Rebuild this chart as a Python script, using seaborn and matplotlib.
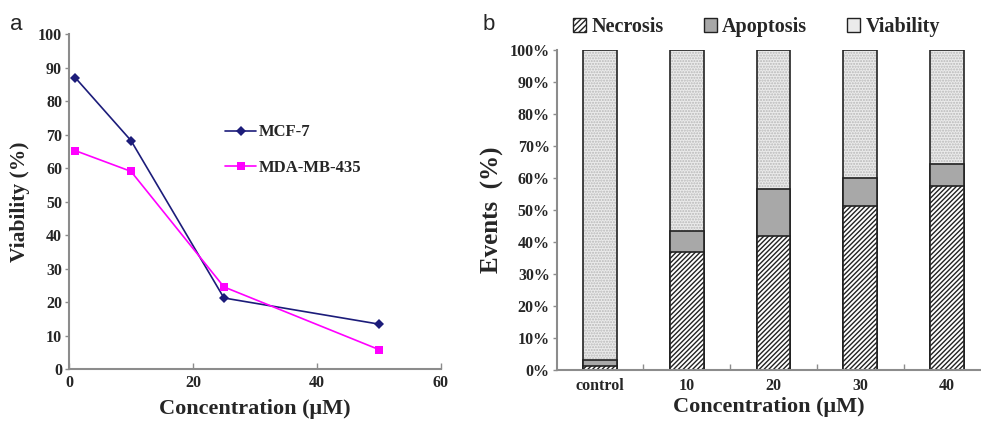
import numpy as np
import pandas as pd
import matplotlib
matplotlib.use('Agg')
import matplotlib.pyplot as plt
import seaborn as sns
from matplotlib.patches import Patch
from matplotlib.lines import Line2D

# ---- panel a data ----
conc = [1, 10, 25, 50]
mcf7 = [87.0, 68.2, 21.2, 13.4]
mda = [65.2, 59.0, 24.5, 5.8]
line_names = ['MCF-7', 'MDA-MB-435']

# ---- panel b data ----
groups = ['control', '10', '20', '30', '40']
necrosis = [1.2, 37.0, 41.9, 51.4, 57.4]
apoptosis = [1.9, 6.4, 14.7, 8.7, 7.0]
viability = [96.9, 56.6, 43.4, 39.9, 35.6]

sns.set_theme(style='white')
plt.rcParams['font.family'] = ['Liberation Serif', 'DejaVu Serif']
plt.rcParams['font.weight'] = 'bold'
plt.rcParams['hatch.linewidth'] = 1.0

EDGE = '#222222'
SPINE = '#8c8c8c'
fig = plt.figure(figsize=(9.81, 4.21), dpi=100)
ax1 = fig.add_axes([0.0703, 0.1235, 0.3792, 0.7957])
ax2 = fig.add_axes([0.5675, 0.1211, 0.4315, 0.7600])

# ---------------- panel a ----------------
df = pd.DataFrame({
    'conc': conc * 2,
    'viab': mcf7 + mda,
    'line': [line_names[0]] * len(conc) + [line_names[1]] * len(conc),
})
pal = {line_names[0]: '#1c1c7a', line_names[1]: '#ff00ff'}
mk = {line_names[0]: 'D', line_names[1]: 's'}
msz = {line_names[0]: 4.8, line_names[1]: 6.0}
for name in line_names:
    sub = df[df['line'] == name]
    sns.lineplot(data=sub, x='conc', y='viab', color=pal[name], marker=mk[name],
                 markersize=msz[name], markeredgewidth=0,
                 linewidth=1.2, ax=ax1, legend=False)
ax1.set_xlim(0, 60)
ax1.set_ylim(0, 100)
ax1.set_xticks([0, 20, 40, 60])
ax1.set_yticks(np.arange(0, 101, 10))
for s in ['top', 'right']:
    ax1.spines[s].set_visible(False)
for s in ['left', 'bottom']:
    ax1.spines[s].set_color(SPINE)
    ax1.spines[s].set_linewidth(1.5)
ax1.tick_params(axis='y', direction='out', length=3, width=1, color=SPINE,
                labelsize=11.5, pad=2, left=True)
ax1.tick_params(axis='x', direction='in', length=4, width=1, color=SPINE,
                labelsize=11.5, pad=4, bottom=True)
for lab in ax1.get_xticklabels() + ax1.get_yticklabels():
    lab.set_fontweight('bold')
ax1.set_xlabel('Concentration (\u03bcM)', fontsize=16, fontweight='bold', labelpad=6)
ax1.set_ylabel('Viability (%)', fontsize=15.5, fontweight='bold', labelpad=6)
handles = [Line2D([], [], color=pal[n], marker=mk[n], markersize=msz[n],
                  markeredgewidth=0, linewidth=1.2) for n in line_names]
ax1.legend(handles, line_names, loc='center left', bbox_to_anchor=(0.419, 0.654),
           frameon=False, borderpad=0, borderaxespad=0, handlelength=1.9,
           handletextpad=0.15, labelspacing=1.15, prop={'weight': 'bold', 'size': 12})

fig.text(10 / 981, 1 - 25 / 421, 'a', family='Liberation Sans', fontsize=16,
         fontweight='normal', va='center', ha='left')
fig.text(483 / 981, 1 - 25 / 421, 'b', family='Liberation Sans', fontsize=16,
         fontweight='normal', va='center', ha='left')

# ---------------- panel b ----------------
nec = np.array(necrosis)
apo = np.array(apoptosis)
via = np.array(viability)
cum_apo = nec + apo
total = cum_apo + via
W = 0.39

n0 = len(ax2.patches)
sns.barplot(x=groups, y=total, order=groups, color='#ebebeb', saturation=1, width=W,
            errorbar=None, ax=ax2)
for p in ax2.patches[n0:]:
    p.set_hatch('......')
    p.set_edgecolor('#b8b8b8')
    p.set_linewidth(0)
n0 = len(ax2.patches)
sns.barplot(x=groups, y=total, order=groups, color='#ebebeb', saturation=1, width=W,
            errorbar=None, ax=ax2)
for p in ax2.patches[n0:]:
    p.set_facecolor('none')
    p.set_edgecolor(EDGE)
    p.set_linewidth(1.2)
n0 = len(ax2.patches)
sns.barplot(x=groups, y=cum_apo, order=groups, color='#a8a8a8', saturation=1, width=W,
            errorbar=None, ax=ax2)
for p in ax2.patches[n0:]:
    p.set_edgecolor(EDGE)
    p.set_linewidth(1.2)
n0 = len(ax2.patches)
sns.barplot(x=groups, y=nec, order=groups, color='white', saturation=1, width=W,
            errorbar=None, ax=ax2)
for p in ax2.patches[n0:]:
    p.set_hatch('///////')
    p.set_edgecolor(EDGE)
    p.set_linewidth(1.2)

ax2.set_xlim(-0.5, 4.38)
ax2.set_ylim(0, 100)
ax2.set_yticks(np.arange(0, 101, 10))
ax2.set_yticklabels([f'{v}%' for v in range(0, 101, 10)])
ax2.set_xticks(np.arange(len(groups)))
ax2.set_xticks(np.arange(len(groups) - 1) + 0.5, minor=True)
for s in ['top', 'right']:
    ax2.spines[s].set_visible(False)
for s in ['left', 'bottom']:
    ax2.spines[s].set_color(SPINE)
    ax2.spines[s].set_linewidth(1.5)
ax2.tick_params(axis='y', direction='out', length=3, width=1, color=SPINE,
                labelsize=11.5, pad=2, left=True)
ax2.tick_params(axis='x', which='major', length=0, labelsize=11.5, pad=6)
ax2.tick_params(axis='x', which='minor', direction='in', length=4, width=1,
                color=SPINE, bottom=True)
for lab in ax2.get_xticklabels() + ax2.get_yticklabels():
    lab.set_fontweight('bold')
ax2.set_xlabel('Concentration (\u03bcM)', fontsize=16, fontweight='bold', labelpad=2)
ax2.set_ylabel('Events  (%)', fontsize=18, fontweight='bold', labelpad=4)

leg_handles = [Patch(facecolor='white', edgecolor=EDGE, hatch='//////', linewidth=1),
               Patch(facecolor='#a8a8a8', edgecolor=EDGE, linewidth=1),
               Patch(facecolor='#ebebeb', edgecolor=EDGE, linewidth=1)]
fig.legend(leg_handles, ['Necrosis', 'Apoptosis', 'Viability'], loc='center left',
           bbox_to_anchor=(573 / 981, 1 - 27 / 421), ncol=3, frameon=False,
           borderpad=0, borderaxespad=0, handlelength=0.65, handleheight=0.65,
           handletextpad=0.25, columnspacing=2.0,
           prop={'weight': 'bold', 'size': 14.5})

fig.savefig('out.png', dpi=100)
